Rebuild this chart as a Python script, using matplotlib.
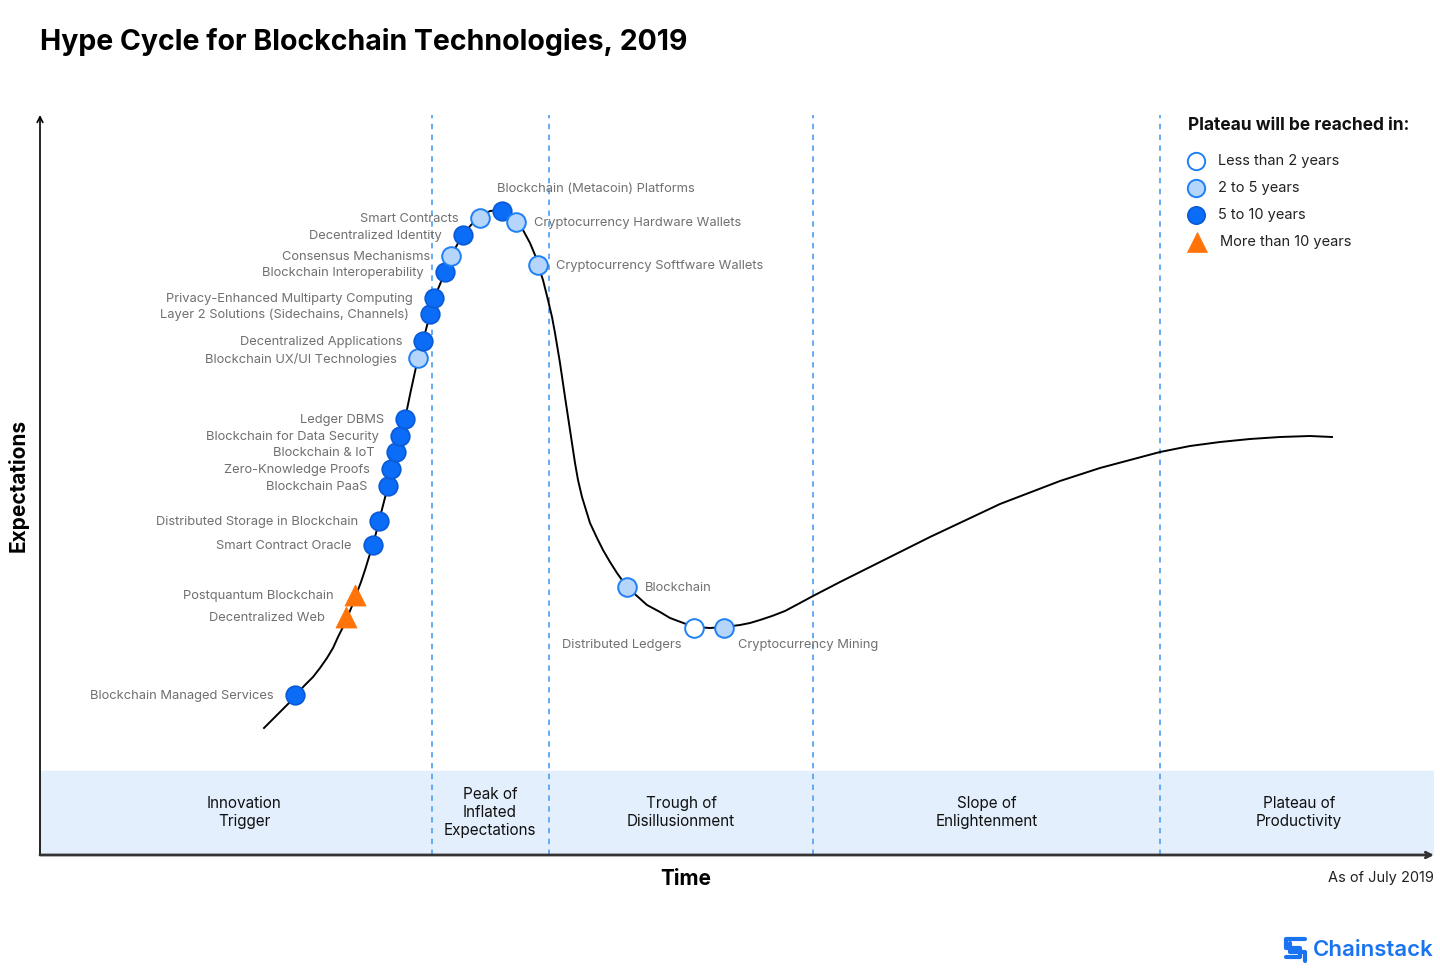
import matplotlib

matplotlib.use("Agg")

import matplotlib.pyplot as plt
from matplotlib.lines import Line2D

plt.rcParams["font.family"] = ["Inter", "DejaVu Sans"]

# hype curve (time, expectations)
curve_x = [224, 232, 240, 248, 255, 264, 273, 280, 287, 293, 298, 303, 307, 312, 316, 321,
           325, 329, 333, 339, 348, 356, 365, 371, 378, 383, 390, 396, 405, 411, 417, 423,
           431, 440, 450, 462, 470, 476, 483, 490, 495, 498, 503, 508, 512, 515, 520, 525,
           530, 535, 538, 542, 546, 550, 557, 563, 570, 577, 587, 607, 620, 630, 654, 670,
           684, 700, 710, 720, 732, 745, 760, 773, 800, 830, 890, 960, 1020, 1060, 1090, 1120,
           1150, 1180, 1210, 1240, 1270, 1292]
curve_y = [127, 135, 143, 151, 159, 169, 178, 187, 197, 207, 218, 228, 237, 249, 260, 273,
           285, 298, 310, 334, 369, 403, 436, 465, 497, 514, 541, 561, 583, 599, 610, 620,
           630, 638, 644, 645, 641, 633, 625, 612, 600, 590, 575, 555, 538, 522, 492, 458,
           425, 392, 375, 358, 345, 332, 317, 305, 293, 282, 268, 250, 243, 237, 228, 227,
           228, 230, 232, 235, 239, 244, 252, 259, 273, 288, 318, 351, 374, 387, 395, 403,
           409, 413, 416, 418, 419, 418]

tech_names = [
    "Blockchain Managed Services", "Decentralized Web", "Postquantum Blockchain",
    "Smart Contract Oracle", "Distributed Storage in Blockchain", "Blockchain PaaS",
    "Zero-Knowledge Proofs", "Blockchain & IoT", "Blockchain for Data Security",
    "Ledger DBMS", "Blockchain UX/UI Technologies", "Decentralized Applications",
    "Layer 2 Solutions (Sidechains, Channels)", "Privacy-Enhanced Multiparty Computing",
    "Blockchain Interoperability", "Consensus Mechanisms", "Decentralized Identity",
    "Smart Contracts", "Blockchain (Metacoin) Platforms", "Cryptocurrency Hardware Wallets",
    "Cryptocurrency Softfware Wallets", "Blockchain", "Distributed Ledgers",
    "Cryptocurrency Mining",
]
tech_x = [255, 306, 315, 333, 339, 348, 351, 356, 360, 365, 378, 383, 390, 394, 405, 411,
          423, 440, 462, 476, 498, 587, 654, 684]
tech_y = [160, 238, 260, 310, 334, 369, 386, 403, 419, 436, 497, 514, 541, 557, 583, 599,
          620, 637, 644, 633, 590, 268, 227, 227]
tech_plateau = ["5-10", ">10", ">10", "5-10", "5-10", "5-10", "5-10", "5-10", "5-10", "5-10",
                "2-5", "5-10", "5-10", "5-10", "5-10", "2-5", "5-10", "2-5", "5-10", "2-5",
                "2-5", "2-5", "<2", "2-5"]
label_side = ["left"] * 18 + ["above", "right", "right", "right", "below_left", "below_right"]

phase_edges = [392, 509, 773, 1120]
phase_names = ["Innovation\nTrigger", "Peak of\nInflated\nExpectations", "Trough of\nDisillusionment",
               "Slope of\nEnlightenment", "Plateau of\nProductivity"]
phase_centers = [204, 450, 641, 947, 1259]

plateau_order = ["<2", "2-5", "5-10", ">10"]
plateau_labels = ["Less than 2 years", "2 to 5 years", "5 to 10 years", "More than 10 years"]

marker_style = {
    "<2": dict(marker="o", s=180, facecolor="white", edgecolor="#1f80f5", linewidths=1.4),
    "2-5": dict(marker="o", s=180, facecolor="#b6d5fb", edgecolor="#1f80f5", linewidths=1.4),
    "5-10": dict(marker="o", s=180, facecolor="#0a6cf7", edgecolor="#0a5ad8", linewidths=1.2),
    ">10": dict(marker="^", s=230, facecolor="#ff7308", edgecolor="#ff7308", linewidths=0.5),
}
label_pos = {
    "left": ((-21, -1), "right", "center"),
    "right": ((18, -1), "left", "center"),
    "above": ((-5, 22), "left", "center"),
    "below_left": ((-13, -17), "right", "center"),
    "below_right": ((14, -17), "left", "center"),
}

W, H = 1440, 972
fig = plt.figure(figsize=(14.4, 9.72), dpi=100)
ax = fig.add_axes([40 / W, 117 / H, 1394 / W, 740 / H])
ax.set_xlim(0, 1394)
ax.set_ylim(0, 740)
for sp in ax.spines.values():
    sp.set_visible(False)
ax.set_xticks([])
ax.set_yticks([])
ax.patch.set_alpha(0)

ax.axhspan(0, 84, color="#e3effd", zorder=0)
for xe in phase_edges:
    ax.plot([xe, xe], [0, 740], color="#5aa5f5", lw=1.3, ls=(0, (3, 3)), zorder=1)
for xc, name in zip(phase_centers, phase_names):
    ax.text(xc, 43, name, ha="center", va="center", fontsize=11, color="#111111", linespacing=1.25)

ax.annotate("", xy=(0, 1), xytext=(0, 0), xycoords="axes fraction",
            arrowprops=dict(arrowstyle="->", color="black", lw=1.2, shrinkA=0, shrinkB=0))
ax.annotate("", xy=(1, 0), xytext=(0, 0), xycoords="axes fraction",
            arrowprops=dict(arrowstyle="->", color="#333333", lw=2, shrinkA=0, shrinkB=0))

ax.plot(curve_x, curve_y, color="black", lw=1.4, zorder=2, solid_joinstyle="round")

for name, x, y, cat, side in zip(tech_names, tech_x, tech_y, tech_plateau, label_side):
    ax.scatter([x], [y], zorder=3, **marker_style[cat])
    off, ha, va = label_pos[side]
    ax.annotate(name, (x, y), xytext=off, textcoords="offset pixels", ha=ha, va=va,
                fontsize=9.3, color="#707070", zorder=4)

# legend, drawn by hand to match spacing
fig.text(1188 / W, 1 - 126 / H, "Plateau will be reached in:", ha="left", va="center",
         fontsize=12.5, fontweight="bold", color="#111111")
for i, (cat, lab) in enumerate(zip(plateau_order, plateau_labels)):
    st = marker_style[cat]
    yy = 1 - (161 + 27 * i) / H
    tri = st["marker"] == "^"
    fig.add_artist(Line2D([(1197 if tri else 1196) / W], [yy], ls="none", marker=st["marker"],
                          markersize=15 if tri else 12.5, markerfacecolor=st["facecolor"],
                          markeredgecolor=st["edgecolor"], markeredgewidth=st["linewidths"]))
    fig.text((1220 if tri else 1218) / W, yy, lab, ha="left", va="center", fontsize=10.5,
             color="#222222")

fig.text(40 / W, 1 - 42 / H, "Hype Cycle for Blockchain Technologies, 2019", ha="left",
         va="center", fontsize=20.5, fontweight="bold", color="black")
fig.text(18 / W, 1 - 485 / H, "Expectations", rotation=90, ha="center", va="center",
         fontsize=15, fontweight="bold")
fig.text(686 / W, 1 - 879 / H, "Time", ha="center", va="center", fontsize=15, fontweight="bold")
fig.text(1434 / W, 1 - 878 / H, "As of July 2019", ha="right", va="center", fontsize=10.5,
         color="#222222")
fig.text(1434 / W, 1 - 950 / H, "Chainstack", ha="right", va="center", fontsize=16,
         fontweight="semibold", color="#1a73f0")
# little logo mark next to the brand name
logo_x = [1305, 1286, 1286, 1300, 1300, 1286]
logo_y = [939, 939, 948, 948, 957, 957]
fig.add_artist(Line2D([v / W for v in logo_x], [1 - v / H for v in logo_y],
                      color="#1a73f0", lw=3, solid_joinstyle="round", solid_capstyle="round"))
logo_x2 = [1290, 1290, 1305, 1305]
logo_y2 = [943, 952, 952, 961]
fig.add_artist(Line2D([v / W for v in logo_x2], [1 - v / H for v in logo_y2],
                      color="#1a73f0", lw=3, solid_joinstyle="round", solid_capstyle="round"))

fig.savefig("out.png", dpi=100)
